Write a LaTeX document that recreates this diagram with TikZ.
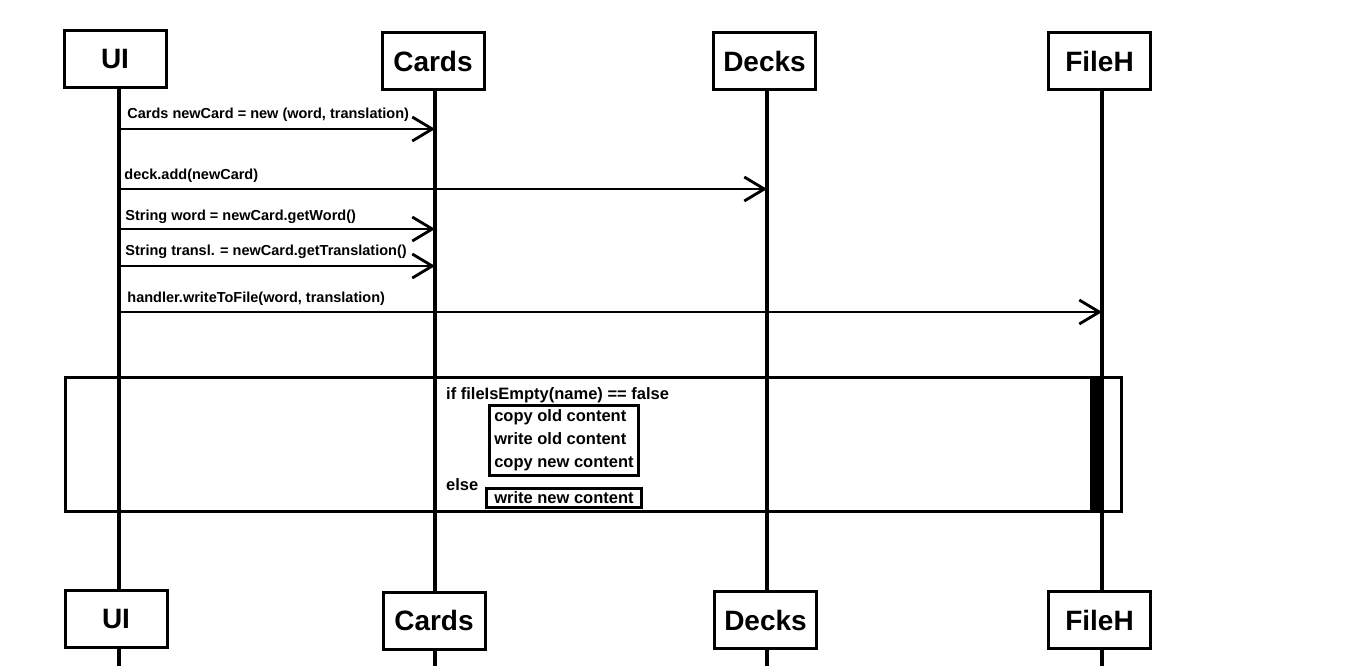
\documentclass[tikz,border=0pt]{standalone}
\usepackage{fontspec}
\setmainfont{Liberation Sans}
\usetikzlibrary{arrows.meta}

\begin{document}
\begin{tikzpicture}[x=1pt,y=1pt,
  obj/.style={draw,line width=3pt,minimum width=102pt,minimum height=57pt,font=\fontsize{28}{32}\selectfont\bfseries},
  life/.style={line width=3.2pt},
  msg/.style={line width=2.8pt,-{Straight Barb[length=20pt,width=24pt]}},
  lbl/.style={anchor=base west,inner sep=0pt,font=\fontsize{14.5}{17}\selectfont\bfseries},
  txt/.style={font=\fontsize{16.5}{23}\selectfont\bfseries}]

  \useasboundingbox (0,0) rectangle (1352,-666);
  \coordinate (Bot) at (0,-666);

  \node[obj] (UITo) at (115,-59.5) {UI};
  \node[obj] (CaTo) at (433,-61.5) {Cards};
  \node[obj] (DeTo) at (764.5,-61) {Decks};
  \node[obj] (FiTo) at (1099.5,-61) {FileH};

  \node[obj] (UIBo) at (116,-619) {UI};
  \node[obj] (CaBo) at (434,-620.5) {Cards};
  \node[obj] (DeBo) at (765.5,-620) {Decks};
  \node[obj] (FiBo) at (1099.5,-620) {FileH};

  % %lifelines
  \coordinate (UILi) at (119,0);
  \coordinate (CaLi) at (435,0);
  \coordinate (DeLi) at (767,0);
  \coordinate (FiLi) at (1102,0);

  \draw[life] (UILi |- UITo.south) -- (UILi |- UIBo.north);
  \draw[life] (UILi |- UIBo.south) -- (UILi |- Bot);
  \draw[life] (CaLi |- CaTo.south) -- (CaLi |- CaBo.north);
  \draw[life] (CaLi |- CaBo.south) -- (CaLi |- Bot);
  \draw[life] (DeLi |- DeTo.south) -- (DeLi |- DeBo.north);
  \draw[life] (DeLi |- DeBo.south) -- (DeLi |- Bot);
  \draw[life] (FiLi |- FiTo.south) -- (FiLi |- FiBo.north);
  \draw[life] (FiLi |- FiBo.south) -- (FiLi |- Bot);

  % %messages
  \coordinate (NeCa) at (0,-129);
  \coordinate (DeAd) at (0,-189);
  \coordinate (GeWo) at (0,-229);
  \coordinate (GeTr) at (0,-266);
  \coordinate (WrFi) at (0,-312);

  \draw[msg] (UILi |- NeCa) -- node[lbl,pos=0,xshift=7pt,yshift=10pt] {Cards newCard = new (word, translation)} (CaLi |- NeCa);
  \draw[msg] (UILi |- DeAd) -- node[lbl,pos=0,xshift=4pt,yshift=10pt] {deck.add(newCard)} (DeLi |- DeAd);
  \draw[msg] (UILi |- GeWo) -- node[lbl,pos=0,xshift=5pt,yshift=9pt] {String word = newCard.getWord()} (CaLi |- GeWo);
  \draw[msg] (UILi |- GeTr) -- node[lbl,pos=0,xshift=5pt,yshift=11pt] {String transl. = newCard.getTranslation()} (CaLi |- GeTr);
  \draw[msg] (UILi |- WrFi) -- node[lbl,pos=0,xshift=7pt,yshift=10pt] {handler.writeToFile(word, translation)} (FiLi |- WrFi);

  % %writing to the file
  \node[draw,line width=3pt,minimum width=1056pt,minimum height=134pt] (Fr) at (593.5,-444.5) {};
  \node[fill=black,inner sep=0pt,minimum width=13pt,minimum height=137pt] (Ac) at (1096.5,-444.5) {};

  \node[txt,anchor=base west,inner sep=0pt] (IfTe) at (446,-399) {if fileIsEmpty(name) == false};
  \node[txt,draw,line width=2.5pt,align=left,anchor=north west,inner xsep=5pt,inner ysep=4.5pt] (IfBo) at (488,-404) {copy old content\\write old content\\copy new content};
  \node[txt,anchor=base west,inner sep=0pt] (ElTe) at (446,-490) {else};
  \node[txt,draw,line width=2.5pt,anchor=north west,inner xsep=8pt,inner ysep=3.5pt] (ElBo) at (485,-487) {write new content};

\end{tikzpicture}
\end{document}
